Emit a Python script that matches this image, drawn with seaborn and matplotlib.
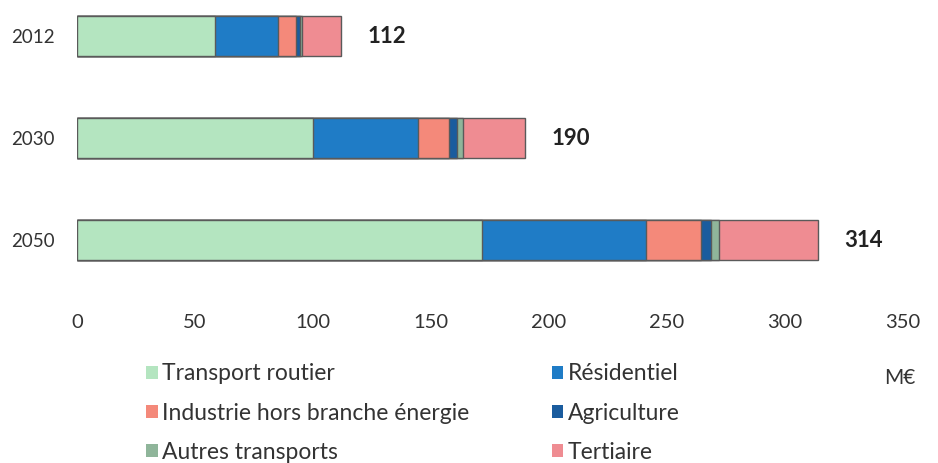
import numpy as np
import pandas as pd
import matplotlib
matplotlib.use("Agg")
import matplotlib.pyplot as plt
from matplotlib.patches import Patch
import seaborn as sns

# Data (M€)
years = ["2012", "2030", "2050"]
sectors = ["Transport routier", "Résidentiel", "Industrie hors branche énergie",
           "Agriculture", "Autres transports", "Tertiaire"]
transport_routier = [58.4, 100.0, 171.4]
residentiel = [26.6, 44.3, 69.8]
industrie = [8.0, 13.5, 23.3]
agriculture = [1.3, 3.4, 4.2]
autres_transports = [1.0, 2.2, 3.4]
tertiaire = [16.7, 26.6, 41.9]
totals = [112, 190, 314]
xticks = [0, 50, 100, 150, 200, 250, 300, 350]

colors = ["#b4e5c0", "#1f7cc6", "#f4897a", "#1a5c9e", "#8fb59a", "#ef8c92"]

sns.set_theme(style="white")
plt.rcParams["font.family"] = ["Lato", "DejaVu Sans"]

series = [transport_routier, residentiel, industrie, agriculture,
          autres_transports, tertiaire]
df = pd.DataFrame({"year": years})
for name, vals in zip(sectors, series):
    df[name] = vals
cum = df[sectors].cumsum(axis=1)

fig = plt.figure(figsize=(9.38, 4.63), dpi=100)
ax = fig.add_axes([77 / 938, 1 - 290 / 463, (903 - 77) / 938, 290 / 463])

# stacked bars: draw cumulative layers from the outermost inward
for name, col in reversed(list(zip(sectors, colors))):
    sns.barplot(x=cum[name], y=df["year"], order=years, orient="h",
                color=col, width=0.39, edgecolor="#5a5a5a", linewidth=1.0,
                saturation=1, ax=ax)

for i, tot in enumerate(totals):
    ax.annotate(f"{tot}", xy=(tot, i), xytext=(19, 0), textcoords="offset points",
                va="center", ha="left", fontsize=16, fontweight="bold",
                color="#222222")

ax.set_xlim(0, 350)
ax.set_ylim(2.49, -0.353)
ax.set_xticks(xticks)
ax.set_xticklabels([str(t) for t in xticks])
ax.set_xlabel("")
ax.set_ylabel("")
ax.tick_params(axis="x", length=0, pad=17, labelsize=14.5, labelcolor="#333333")
ax.tick_params(axis="y", length=0, pad=16, labelsize=13.5, labelcolor="#333333")
for s in ax.spines.values():
    s.set_visible(False)
ax.grid(False)

fig.text(900 / 938, 1 - 378 / 463, "M€", ha="center", va="center",
         fontsize=15, color="#333333")

handles = [Patch(facecolor=c, edgecolor="none") for c in colors]
order = [0, 2, 4, 1, 3, 5]
fig.legend([handles[i] for i in order], [sectors[i] for i in order],
           ncol=2, loc="upper left", bbox_to_anchor=(137 / 938, 1 - 354 / 463),
           frameon=False, fontsize=16.5, handlelength=0.5, handleheight=0.5,
           handletextpad=0.2, labelspacing=0.8, columnspacing=3.6,
           labelcolor="#333333", borderaxespad=0)

fig.savefig("out.png", dpi=100, facecolor="white")
